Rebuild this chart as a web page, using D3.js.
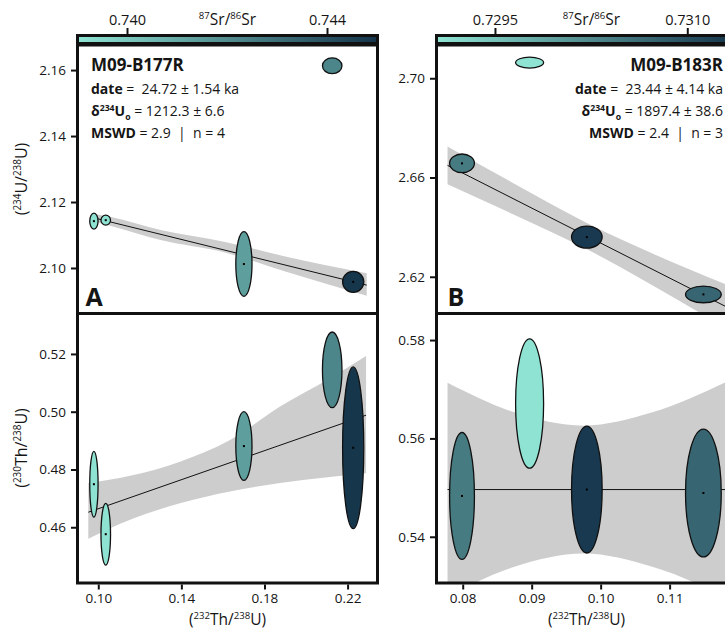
<!DOCTYPE html>
<html><head><meta charset="utf-8">
<script src="https://cdn.jsdelivr.net/npm/d3@7"></script>
<style>body{margin:0;background:#fff} text{font-family:"Open Sans",sans-serif;fill:#151515}</style>
</head><body><svg id="c" width="725" height="631"></svg>
<script>
// ---------------- DATA ----------------
// Panel A (M09-B177R)
const aTh232    = [0.0979, 0.1036, 0.1701, 0.2227, 0.2126];
const aTh232Err = [0.0020, 0.0023, 0.0039, 0.0051, 0.0047];
const aU234     = [2.1142, 2.1145, 2.1012, 2.0958, 2.1613];
const aU234Err  = [0.0024, 0.0015, 0.0098, 0.0032, 0.0024];
const aTh230    = [0.4749, 0.4576, 0.4881, 0.4875, 0.5145];
const aTh230Err = [0.0114, 0.0107, 0.0119, 0.0280, 0.0131];
const aSr       = [0.7391, 0.7391, 0.7414, 0.7449, 0.7422];
const aUsed     = [true, true, true, true, false];
// Panel B (M09-B183R)
const bTh232    = [0.0799, 0.0980, 0.1149, 0.0897];
const bTh232Err = [0.0018, 0.00222, 0.00259, 0.00203];
const bU234     = [2.6657, 2.6360, 2.6129, 2.7063];
const bU234Err  = [0.00377, 0.00444, 0.00337, 0.0022];
const bTh230    = [0.5483, 0.5496, 0.5489, 0.5671];
const bTh230Err = [0.0129, 0.0129, 0.0130, 0.01316];
const bSr       = [0.73044, 0.7313, 0.73072, 0.72906];
const bUsed     = [true, true, true, false];

// Regression lines [x0,x1],[y0,y1]
const aFitUX = [0.0985, 0.2292], aFitUY = [2.1151, 2.0948];
const aFitTX = [0.0952, 0.2289], aFitTY = [0.4652, 0.4988];
const bFitUX = [0.0778, 0.1190], bFitUY = [2.6649, 2.6068];
const bFitTX = [0.0778, 0.1190], bFitTY = [0.5496, 0.5496];

// Confidence bands (x, low, high)
const aBandUX  = [0.0985, 0.1057, 0.13, 0.161, 0.19, 0.2292];
const aBandULo = [2.1140, 2.1128, 2.1085, 2.1047, 2.0989, 2.0916];
const aBandUHi = [2.1164, 2.1155, 2.1115, 2.1079, 2.1035, 2.0984];
const aBandTX  = [0.0952, 0.1153, 0.1393, 0.1634, 0.1875, 0.2115, 0.2289];
const aBandTLo = [0.4560, 0.4626, 0.4683, 0.4724, 0.4753, 0.4774, 0.4787];
const aBandTHi = [0.4753, 0.4778, 0.4827, 0.4902, 0.5018, 0.5116, 0.5193];
const bBandUX  = [0.0778, 0.088, 0.098, 0.108, 0.119];
const bBandULo = [2.6573, 2.6443, 2.6311, 2.6158, 2.5978];
const bBandUHi = [2.6725, 2.6567, 2.6417, 2.6288, 2.6160];
const bBandTX  = [0.0778, 0.0875, 0.0975, 0.1075, 0.119];
const bBandTLo = [0.5279, 0.5339, 0.5366, 0.5339, 0.5272];
const bBandTHi = [0.5713, 0.5653, 0.5626, 0.5653, 0.5720];

// Axis domains and ticks
const aXDomain = [0.0900, 0.2344], aXTicks = [0.10, 0.14, 0.18, 0.22];
const aUDomain = [2.0862, 2.1676], aUTicks = [2.10, 2.12, 2.14, 2.16];
const aTDomain = [0.4407, 0.5340], aTTicks = [0.46, 0.48, 0.50, 0.52];
const aSrDomain = [0.739, 0.745], aSrTicks = [0.740, 0.744];
const bXDomain = [0.0762, 0.1197], bXTicks = [0.08, 0.09, 0.10, 0.11];
const bUDomain = [2.6052, 2.7134], bUTicks = [2.62, 2.66, 2.70];
const bTDomain = [0.5306, 0.5854], bTTicks = [0.54, 0.56, 0.58];
const bSrDomain = [0.72904, 0.73138], bSrTicks = [0.7295, 0.7310];

// Annotations
const aTitle = "M09-B177R", aDate = "24.72 ± 1.54 ka", aDelta = "1212.3 ± 6.6", aMswd = "2.9", aN = "4";
const bTitle = "M09-B183R", bDate = "23.44 ± 4.14 ka", bDelta = "1897.4 ± 38.6", bMswd = "2.4", bN = "3";

// ---------------- DRAW ----------------
const svg = d3.select("#c");
const colorRange = ["#8fe5d4", "#14334a"];
const Y0 = 45, YM = 313.5, Y1 = 583;

function rich(g, x, y, parts, anchor, size) {
  const t = g.append("text").attr("x", x).attr("y", y).attr("font-size", size)
    .attr("text-anchor", anchor).style("white-space", "pre");
  let cur = 0;
  parts.forEach(p => {
    const off = p.sup ? -0.38 * size : (p.sub ? 0.28 * size : 0);
    const s = t.append("tspan").text(p.t).attr("dy", off - cur);
    if (p.sup || p.sub) s.attr("font-size", size * 0.62);
    if (p.b) s.attr("font-weight", "bold");
    cur = off;
  });
  return t;
}

function panel(cfg) {
  const x = d3.scaleLinear().domain(cfg.xDomain).range([cfg.x0, cfg.x1]);
  const yU = d3.scaleLinear().domain(cfg.uDomain).range([YM, Y0]);
  const yT = d3.scaleLinear().domain(cfg.tDomain).range([Y1, YM]);
  const col = d3.scaleLinear().domain(cfg.srDomain).range(colorRange);
  const id = cfg.id;

  const defs = svg.append("defs");
  defs.append("clipPath").attr("id", "cu" + id).append("rect")
    .attr("x", cfg.x0).attr("y", Y0).attr("width", cfg.x1 - cfg.x0).attr("height", YM - Y0);
  defs.append("clipPath").attr("id", "ct" + id).append("rect")
    .attr("x", cfg.x0).attr("y", YM).attr("width", cfg.x1 - cfg.x0).attr("height", Y1 - YM);
  const grad = defs.append("linearGradient").attr("id", "gr" + id);
  d3.range(0, 1.0001, 0.1).forEach(f => grad.append("stop").attr("offset", f)
    .attr("stop-color", col(cfg.srDomain[0] + f * (cfg.srDomain[1] - cfg.srDomain[0]))));

  function sub(clip, yS, bx, blo, bhi, fx, fy, yv, ye) {
    const g = svg.append("g").attr("clip-path", `url(#${clip})`);
    const area = d3.area().x((d, i) => x(bx[i])).y0((d, i) => yS(blo[i])).y1((d, i) => yS(bhi[i]))
      .curve(d3.curveMonotoneX);
    g.append("path").attr("d", area(bx)).attr("fill", "#cdcdcd");
    g.append("line").attr("x1", x(fx[0])).attr("x2", x(fx[1])).attr("y1", yS(fy[0])).attr("y2", yS(fy[1]))
      .attr("stroke", "#111").attr("stroke-width", 1);
    cfg.xv.forEach((xv, i) => {
      g.append("ellipse").attr("cx", x(xv)).attr("cy", yS(yv[i]))
        .attr("rx", Math.abs(x(xv + cfg.xe[i]) - x(xv))).attr("ry", Math.abs(yS(yv[i] + ye[i]) - yS(yv[i])))
        .attr("fill", col(cfg.sr[i])).attr("stroke", "#111").attr("stroke-width", 1.3);
      if (cfg.used[i]) g.append("rect").attr("x", x(xv) - 1).attr("y", yS(yv[i]) - 1)
        .attr("width", 2).attr("height", 2).attr("fill", "#000");
    });
  }
  sub("cu" + id, yU, cfg.bandUX, cfg.bandULo, cfg.bandUHi, cfg.fitUX, cfg.fitUY, cfg.u, cfg.ue);
  sub("ct" + id, yT, cfg.bandTX, cfg.bandTLo, cfg.bandTHi, cfg.fitTX, cfg.fitTY, cfg.t, cfg.te);

  // axes
  const styleAxis = (g) => {
    g.select(".domain").remove();
    g.selectAll(".tick line").attr("stroke", "#111").attr("stroke-width", 2);
    g.selectAll(".tick text").attr("font-size", 13.5).attr("font-family", '"Open Sans",sans-serif').attr("fill", "#151515");
  };
  svg.append("g").attr("transform", `translate(${cfg.x0 - 1.5},0)`)
    .call(d3.axisLeft(yU).tickValues(cfg.uTicks).tickFormat(d3.format(".2f")).tickSize(5).tickPadding(5)).call(styleAxis);
  svg.append("g").attr("transform", `translate(${cfg.x0 - 1.5},0)`)
    .call(d3.axisLeft(yT).tickValues(cfg.tTicks).tickFormat(d3.format(".2f")).tickSize(5).tickPadding(5)).call(styleAxis);
  svg.append("g").attr("transform", `translate(0,${Y1 + 1.5})`)
    .call(d3.axisBottom(x).tickValues(cfg.xTicks).tickFormat(d3.format(".2f")).tickSize(5).tickPadding(3.5)).call(styleAxis);

  // frames
  [[Y0, YM], [YM, Y1]].forEach(([a, b]) => svg.append("rect").attr("x", cfg.x0).attr("y", a)
    .attr("width", cfg.x1 - cfg.x0).attr("height", b - a).attr("fill", "none")
    .attr("stroke", "#111").attr("stroke-width", 3));

  // colorbar
  const cs = d3.scaleLinear().domain(cfg.srDomain).range([cfg.x0, cfg.x1]);
  svg.append("rect").attr("x", cfg.x0).attr("y", 35.5).attr("width", cfg.x1 - cfg.x0).attr("height", 8)
    .attr("fill", `url(#gr${id})`).attr("stroke", "#111").attr("stroke-width", 3);
  cfg.srTicks.forEach(v => {
    svg.append("line").attr("x1", cs(v)).attr("x2", cs(v)).attr("y1", 34).attr("y2", 28)
      .attr("stroke", "#111").attr("stroke-width", 2);
    svg.append("text").attr("x", cs(v)).attr("y", 25).attr("text-anchor", "middle")
      .attr("font-size", 14.5).text(v.toFixed(cfg.srFmt));
  });
  rich(svg, (cfg.x0 + cfg.x1) / 2 + cfg.srTitleDx, 25,
    [{t: "87", sup: 1}, {t: "Sr/"}, {t: "86", sup: 1}, {t: "Sr"}], "middle", 15.5);

  // x title
  rich(svg, (cfg.x0 + cfg.x1) / 2, 624.5,
    [{t: "("}, {t: "232", sup: 1}, {t: "Th/"}, {t: "238", sup: 1}, {t: "U)"}], "middle", 15.5);

  // panel letter
  svg.append("text").attr("x", cfg.x0 + cfg.letterDx).attr("y", 305.5).attr("font-size", 25)
    .attr("font-weight", "bold").text(cfg.letter);

  // annotations
  const ax = cfg.annoX, an = cfg.annoAnchor;
  svg.append("text").attr("x", ax).attr("y", 71).attr("text-anchor", an).attr("font-size", 17)
    .attr("font-weight", "bold").text(cfg.title);
  rich(svg, ax, 94, [{t: "date", b: 1}, {t: " =  " + cfg.date}], an, 14);
  rich(svg, ax, 116, [{t: "δ", b: 1}, {t: "234", sup: 1, b: 1}, {t: "U", b: 1}, {t: "o", sub: 1, b: 1},
    {t: " = " + cfg.delta}], an, 14);
  rich(svg, ax, 137.5, [{t: "MSWD", b: 1}, {t: " = " + cfg.mswd + "  |  n = " + cfg.n}], an, 14);
}

panel({id: "A", x0: 77.5, x1: 377.5, xDomain: aXDomain, uDomain: aUDomain, tDomain: aTDomain,
  srDomain: aSrDomain, srTicks: aSrTicks, srFmt: 3, srTitleDx: 0,
  xTicks: aXTicks, uTicks: aUTicks, tTicks: aTTicks,
  xv: aTh232, xe: aTh232Err, u: aU234, ue: aU234Err, t: aTh230, te: aTh230Err, sr: aSr, used: aUsed,
  fitUX: aFitUX, fitUY: aFitUY, fitTX: aFitTX, fitTY: aFitTY,
  bandUX: aBandUX, bandULo: aBandULo, bandUHi: aBandUHi, bandTX: aBandTX, bandTLo: aBandTLo, bandTHi: aBandTHi,
  letter: "A", letterDx: 8, annoX: 91, annoAnchor: "start",
  title: aTitle, date: aDate, delta: aDelta, mswd: aMswd, n: aN});

panel({id: "B", x0: 436.5, x1: 736.5, xDomain: bXDomain, uDomain: bUDomain, tDomain: bTDomain,
  srDomain: bSrDomain, srTicks: bSrTicks, srFmt: 4, srTitleDx: 5,
  xTicks: bXTicks, uTicks: bUTicks, tTicks: bTTicks,
  xv: bTh232, xe: bTh232Err, u: bU234, ue: bU234Err, t: bTh230, te: bTh230Err, sr: bSr, used: bUsed,
  fitUX: bFitUX, fitUY: bFitUY, fitTX: bFitTX, fitTY: bFitTY,
  bandUX: bBandUX, bandULo: bBandULo, bandUHi: bBandUHi, bandTX: bBandTX, bandTLo: bBandTLo, bandTHi: bBandTHi,
  letter: "B", letterDx: 11, annoX: 723, annoAnchor: "end",
  title: bTitle, date: bDate, delta: bDelta, mswd: bMswd, n: bN});

// y titles (shared, left)
rich(svg, 0, 0, [{t: "("}, {t: "234", sup: 1}, {t: "U/"}, {t: "238", sup: 1}, {t: "U)"}], "middle", 16)
  .attr("transform", "translate(27,179) rotate(-90)");
rich(svg, 0, 0, [{t: "("}, {t: "230", sup: 1}, {t: "Th/"}, {t: "238", sup: 1}, {t: "U)"}], "middle", 16)
  .attr("transform", "translate(27,448) rotate(-90)");
</script></body></html>
